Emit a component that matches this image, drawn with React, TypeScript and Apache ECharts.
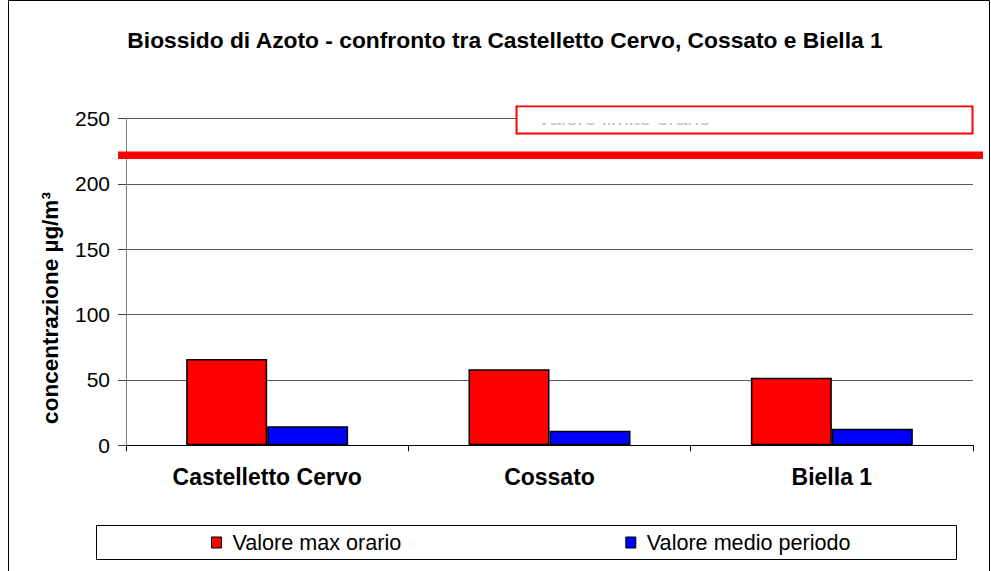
import React, { useEffect, useRef } from "react";
import * as echarts from "echarts";

const categories = ["Castelletto Cervo", "Cossato", "Biella 1"];
const maxOrario = [66, 58.1, 51.7];
const medioPeriodo = [14.5, 11.2, 12.7];
const seriesNames = ["Valore max orario", "Valore medio periodo"];
const limitValue = 222;
const limitLabel = "Valore limite orario";
const titleText = "Biossido di Azoto - confronto tra Castelletto Cervo, Cossato e Biella 1";
const yAxisName = "concentrazione µg/m³";

const FONT = "'Liberation Sans', Arial, sans-serif";

export default function App() {
  const ref = useRef<HTMLDivElement>(null);
  useEffect(() => {
    if (!ref.current) return;
    const chart = echarts.init(ref.current, undefined, { renderer: "svg" });
    chart.setOption({
      animation: false,
      backgroundColor: "#ffffff",
      textStyle: { fontFamily: FONT },
      title: {
        text: titleText,
        left: 505,
        top: 28,
        textAlign: "center",
        padding: 0,
        textStyle: { fontFamily: FONT, fontSize: 22.8, fontWeight: "bold", color: "#000" },
      },
      grid: { left: 126, right: 18, top: 118.6, bottom: 125.7, containLabel: false },
      legend: {
        left: 211,
        top: 531.5,
        padding: 0,
        itemWidth: 10,
        itemHeight: 11,
        itemGap: 224,
        icon: "rect",
        itemStyle: { borderColor: "#000", borderWidth: 1 },
        textStyle: { fontFamily: FONT, fontSize: 21.6, color: "#000", padding: [0, 0, 0, 6] },
        data: seriesNames,
      },
      xAxis: {
        type: "category",
        data: categories,
        axisLine: { lineStyle: { color: "#000", width: 1 } },
        axisTick: { show: true, alignWithLabel: false, length: 6, lineStyle: { color: "#000" } },
        axisLabel: { fontFamily: FONT, fontSize: 23, fontWeight: "bold", color: "#000", margin: 20 },
        splitLine: { show: false },
      },
      yAxis: {
        type: "value",
        min: 0,
        max: 250,
        interval: 50,
        axisLine: { show: true, lineStyle: { color: "#808080", width: 1 } },
        axisTick: { show: true, length: 8, lineStyle: { color: "#404040" } },
        axisLabel: { fontFamily: FONT, fontSize: 21, color: "#000", margin: 16 },
        splitLine: { show: true, lineStyle: { color: "#5a5a5a", width: 1 } },
      },
      series: [
        {
          name: seriesNames[0],
          type: "bar",
          data: maxOrario,
          barWidth: 81,
          barGap: "0%",
          itemStyle: { color: "#ff0000", borderColor: "#000", borderWidth: 1.5 },
        },
        {
          name: seriesNames[1],
          type: "bar",
          data: medioPeriodo,
          barWidth: 81,
          barGap: "0%",
          itemStyle: { color: "#0000ff", borderColor: "#000", borderWidth: 1.5 },
        },
      ],
    });

    const yLimit = chart.convertToPixel({ yAxisIndex: 0 }, limitValue) as number;

    chart.setOption({
      graphic: [
        {
          type: "rect",
          silent: true,
          shape: { x: 8.5, y: 0.5, width: 981, height: 620 },
          style: { fill: "none", stroke: "#000", lineWidth: 1 },
          z: 0,
        },
        {
          type: "text",
          silent: true,
          x: 50,
          y: 308,
          rotation: Math.PI / 2,
          style: {
            text: yAxisName,
            font: `bold 22.5px ${FONT}`,
            fill: "#000",
            align: "center",
            verticalAlign: "middle",
          },
          z: 10,
        },
        {
          type: "line",
          silent: true,
          shape: { x1: 118, y1: yLimit, x2: 983, y2: yLimit },
          style: { stroke: "#ff0000", lineWidth: 7.5 },
          z: 10,
        },
        {
          type: "rect",
          silent: true,
          shape: { x: 516.5, y: 106.5, width: 456, height: 27 },
          style: { fill: "#ffffff", stroke: "#ff0000", lineWidth: 2 },
          z: 11,
        },
        {
          type: "text",
          silent: true,
          x: 537,
          y: 117,
          style: { text: limitLabel, font: `21px ${FONT}`, fill: "#bdbdbd", align: "left", verticalAlign: "middle" },
          z: 12,
        },
        {
          type: "rect",
          silent: true,
          shape: { x: 518, y: 107.5, width: 453, height: 15.5 },
          style: { fill: "#ffffff" },
          z: 100,
          z2: 100,
        },
        {
          type: "rect",
          silent: true,
          shape: { x: 96.5, y: 525.5, width: 860, height: 34 },
          style: { fill: "none", stroke: "#000", lineWidth: 1 },
          z: 10,
        },
      ],
    });

    return () => chart.dispose();
  }, []);

  return (
    <div
      ref={ref}
      style={{ position: "fixed", left: 0, top: 0, width: 991, height: 571, background: "#fff" }}
    />
  );
}
